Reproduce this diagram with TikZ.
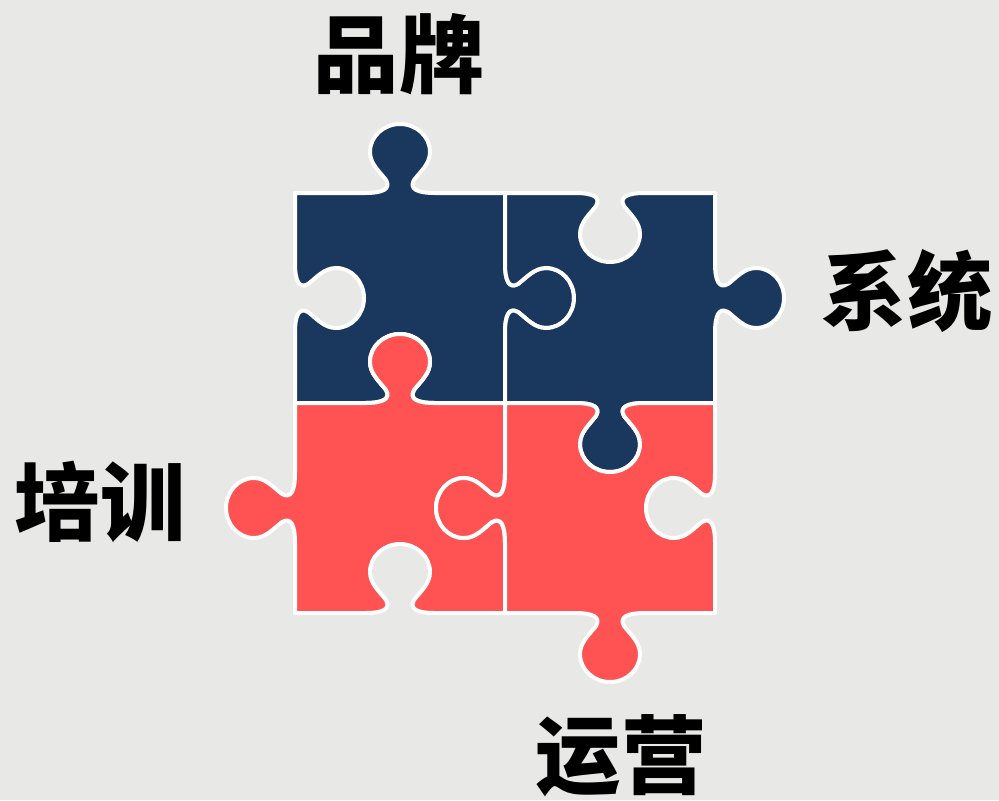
\documentclass[tikz,border=0pt]{standalone}
\usepackage{fontspec}
\newfontfamily\cjk{Noto Sans CJK SC}
\definecolor{bgc}{HTML}{E8E8E6}
\definecolor{navyc}{HTML}{1A375E}
\definecolor{coralc}{HTML}{FF5252}
\tikzset{
  pzside/.style n args={5}{insert path={
    -- ({#1+70*(#3)+0*(#5)*(#4)},{#2+70*(#4)-0*(#5)*(#3)})
    .. controls ({#1+88*(#3)+0*(#5)*(#4)},{#2+88*(#4)-0*(#5)*(#3)})
            and ({#1+96*(#3)+4*(#5)*(#4)},{#2+96*(#4)-4*(#5)*(#3)})
    .. ({#1+91*(#3)+13*(#5)*(#4)},{#2+91*(#4)-13*(#5)*(#3)})
    .. controls ({#1+85*(#3)+21*(#5)*(#4)},{#2+85*(#4)-21*(#5)*(#3)})
            and ({#1+75*(#3)+29*(#5)*(#4)},{#2+75*(#4)-29*(#5)*(#3)})
    .. ({#1+75*(#3)+41*(#5)*(#4)},{#2+75*(#4)-41*(#5)*(#3)})
    .. controls ({#1+75*(#3)+57*(#5)*(#4)},{#2+75*(#4)-57*(#5)*(#3)})
            and ({#1+89*(#3)+69*(#5)*(#4)},{#2+89*(#4)-69*(#5)*(#3)})
    .. ({#1+105*(#3)+69*(#5)*(#4)},{#2+105*(#4)-69*(#5)*(#3)})
    .. controls ({#1+121*(#3)+69*(#5)*(#4)},{#2+121*(#4)-69*(#5)*(#3)})
            and ({#1+135*(#3)+57*(#5)*(#4)},{#2+135*(#4)-57*(#5)*(#3)})
    .. ({#1+135*(#3)+41*(#5)*(#4)},{#2+135*(#4)-41*(#5)*(#3)})
    .. controls ({#1+135*(#3)+29*(#5)*(#4)},{#2+135*(#4)-29*(#5)*(#3)})
            and ({#1+125*(#3)+21*(#5)*(#4)},{#2+125*(#4)-21*(#5)*(#3)})
    .. ({#1+119*(#3)+13*(#5)*(#4)},{#2+119*(#4)-13*(#5)*(#3)})
    .. controls ({#1+114*(#3)+4*(#5)*(#4)},{#2+114*(#4)-4*(#5)*(#3)})
            and ({#1+122*(#3)+0*(#5)*(#4)},{#2+122*(#4)-0*(#5)*(#3)})
    .. ({#1+140*(#3)+0*(#5)*(#4)},{#2+140*(#4)-0*(#5)*(#3)})
    -- ({#1+210*(#3)},{#2+210*(#4)})
  }},
  piece/.style={draw=white, line width=3pt, line join=round},
  label/.style={font=\cjk\bfseries\fontsize{64}{64}\selectfont, text=black, inner sep=0pt, anchor=center}
}
\begin{document}
\begin{tikzpicture}[x=0.75pt, y=-0.75pt]
\fill[bgc] (0,0) rectangle (999,800);
\useasboundingbox (0,0) rectangle (999,800);
% top-left
\draw[piece, fill=navyc] (295,193)
  [pzside={295}{193}{1}{0}{1}]
  [pzside={505}{193}{0}{1}{1}]
  [pzside={505}{403}{-1}{0}{-1}]
  [pzside={295}{403}{0}{-1}{-1}] -- cycle;
% top-right
\draw[piece, fill=navyc] (505,193)
  [pzside={505}{193}{1}{0}{-1}]
  [pzside={715}{193}{0}{1}{1}]
  [pzside={715}{403}{-1}{0}{1}]
  [pzside={505}{403}{0}{-1}{-1}] -- cycle;
% bottom-left
\draw[piece, fill=coralc] (295,403)
  [pzside={295}{403}{1}{0}{1}]
  [pzside={505}{403}{0}{1}{-1}]
  [pzside={505}{613}{-1}{0}{-1}]
  [pzside={295}{613}{0}{-1}{1}] -- cycle;
% bottom-right
\draw[piece, fill=coralc] (505,403)
  [pzside={505}{403}{1}{0}{-1}]
  [pzside={715}{403}{0}{1}{-1}]
  [pzside={715}{613}{-1}{0}{1}]
  [pzside={505}{613}{0}{-1}{1}] -- cycle;
\node[label] (brand) at (399,54) {品牌};
\node[label] (sys) at (907,291) {系统};
\node[label] (train) at (100,502) {培训};
\node[label] (ops) at (621,756) {运营};
\end{tikzpicture}
\end{document}
